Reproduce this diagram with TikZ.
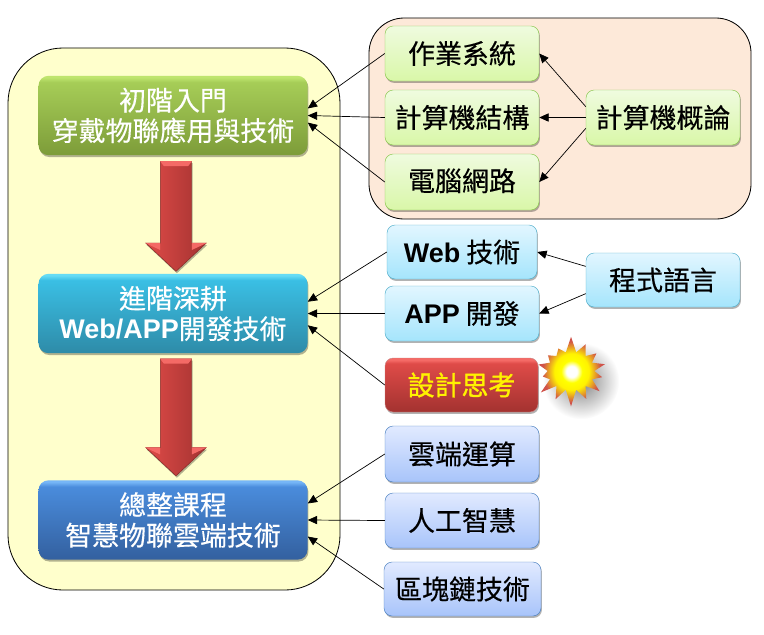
\documentclass[tikz,border=0pt]{standalone}
\usepackage{fontspec}
\setmainfont[FakeBold=0.35]{Noto Sans CJK TC}
\newfontfamily\latinfont{Liberation Sans}[BoldFont={Liberation Sans Bold}]
\usepackage{tikz}
\usetikzlibrary{arrows.meta,calc,shadows,shapes.arrows,shapes.symbols}
\definecolor{greenlow}{HTML}{7D9C39}
\definecolor{greenhigh}{HTML}{A6CD57}
\definecolor{greenrim}{HTML}{BFE56E}
\definecolor{teallow}{HTML}{2E8BA8}
\definecolor{tealhigh}{HTML}{3ABFE4}
\definecolor{tealrim}{HTML}{66DCF5}
\definecolor{bluelow}{HTML}{33609F}
\definecolor{bluehigh}{HTML}{4A8CDC}
\definecolor{bluerim}{HTML}{76B6F7}
\definecolor{redlow}{HTML}{A33230}
\definecolor{redhigh}{HTML}{DF4B48}
\definecolor{redrim}{HTML}{F46A66}
\definecolor{paleyellow}{HTML}{FFFFCC}
\definecolor{peach}{HTML}{FDE9D9}
\definecolor{flashred}{HTML}{D0524A}
\definecolor{greentop}{HTML}{EFFBDF}
\definecolor{greenbottom}{HTML}{D9F7A8}
\definecolor{cyantop}{HTML}{E2F6FF}
\definecolor{cyanbottom}{HTML}{A5E5FC}
\definecolor{cyanedge}{HTML}{50AECB}
\definecolor{bluetop}{HTML}{E1EAFF}
\definecolor{bluebottom}{HTML}{A8C4FA}
\definecolor{blueedge}{HTML}{4A80C0}
\pgfdeclareverticalshading{greenbar}{100bp}{color(0bp)=(greenlow); color(25bp)=(greenlow); color(71bp)=(greenhigh); color(74bp)=(greenrim); color(100bp)=(greenrim)}
\pgfdeclareverticalshading{tealbar}{100bp}{color(0bp)=(teallow); color(25bp)=(teallow); color(71bp)=(tealhigh); color(74bp)=(tealrim); color(100bp)=(tealrim)}
\pgfdeclareverticalshading{bluebar}{100bp}{color(0bp)=(bluelow); color(25bp)=(bluelow); color(71bp)=(bluehigh); color(74bp)=(bluerim); color(100bp)=(bluerim)}
\pgfdeclareverticalshading{redbar}{100bp}{color(0bp)=(redlow); color(25bp)=(redlow); color(70bp)=(redhigh); color(73bp)=(redrim); color(100bp)=(redrim)}
\pgfdeclareradialshading{flash}{\pgfpoint{0bp}{0bp}}{color(0bp)=(white); color(4bp)=(white); color(8bp)=(yellow); color(13bp)=(yellow!90!orange); color(22bp)=(flashred); color(50bp)=(flashred)}
\tikzset{
  panel/.style={draw=black, line width=0.7pt},
  softshadow/.style={drop shadow={shadow xshift=0.8pt, shadow yshift=-1.6pt, opacity=0.3, fill=black}},
  mainbox/.style={rounded corners=8.5pt, shade, align=center, inner sep=0pt, minimum width=8.07cm,
                  minimum height=2.38cm, text=white, font=\fontsize{23}{26}\selectfont, softshadow},
  topic/.style={rounded corners=7pt, align=center, inner sep=0pt, text=black,
                font=\fontsize{23}{26}\selectfont, softshadow},
  greentopic/.style={topic, draw=green!35!olive!70, top color=greentop, bottom color=greenbottom},
  cyantopic/.style={topic, draw=cyanedge, top color=cyantop, bottom color=cyanbottom},
  bluetopic/.style={topic, draw=blueedge, top color=bluetop, bottom color=bluebottom},
  link/.style={-{Triangle[length=8pt,width=7pt]}, line width=0.6pt, black},
  bigarrow/.style={single arrow, rotate=-90, draw=redlow!80!black, line width=0.4pt, inner xsep=0pt, inner ysep=0.465cm,
                   minimum width=1.8cm, single arrow head extend=0.435cm, single arrow tip angle=94,
                   shade, shading=axis, left color=redhigh, right color=redlow, softshadow},
}
\begin{document}
\begin{tikzpicture}[x=0.03cm,y=-0.03cm]
  \useasboundingbox (0,0) rectangle (764,634);
  % background panels
  \node[panel, fill=paleyellow, rounded corners=47pt, inner sep=0pt, minimum width=9.96cm, minimum height=16.26cm] (track) at (174,319) {};
  \node[panel, fill=peach, rounded corners=30pt, inner sep=0pt, minimum width=11.46cm, minimum height=6.03cm] (basics) at (560,118.5) {};
  % course levels
  \foreach \n/\y/\c/\t in {intro/115.5/greenbar/{初階入門\\穿戴物聯應用與技術},
                           deep/313.5/tealbar/{進階深耕\\{\latinfont\bfseries Web/APP}開發技術},
                           final/520/bluebar/{總整課程\\智慧物聯雲端技術}}
    { \node[mainbox, shading=\c] (\n) at (173,\y) {\t}; }
  \node[bigarrow, minimum height=3.3cm] (stepa) at (176,209) {};
  \node[bigarrow, minimum height=3.51cm] (stepb) at (176,410) {};
  \foreach \a in {stepa,stepb}
    { \fill[redrim] (\a.before tail) -- (\a.after tail) -- ($(\a.after tail)!0.12!(\a.before tail)+(0,5)$) -- ($(\a.before tail)!0.12!(\a.after tail)+(0,5)$) -- cycle;
      \fill[redrim] (\a.before tip) -- (\a.before head) -- ($(\a.before head)+(0,7)$) -- cycle;
      \fill[redrim] (\a.after tip) -- (\a.after head) -- ($(\a.after head)+(0,7)$) -- cycle; }
  % topics
  \foreach \n/\x/\y/\w/\h/\s/\t in {os/462/53.5/154/55/greentopic/作業系統,
                                    arch/462/117.5/154/55/greentopic/計算機結構,
                                    net/462/182/154/56/greentopic/{\raisebox{4pt}{電腦網路}},
                                    intro2/663/117.5/154/55/greentopic/計算機概論,
                                    web/462/252/150/54/cyantopic/{{\latinfont\bfseries Web} 技術},
                                    app/462/313.5/154/55/cyantopic/{{\latinfont\bfseries APP} 開發},
                                    lang/663/280/154/54/cyantopic/程式語言,
                                    cloud/462/454/154/56/bluetopic/雲端運算,
                                    ai/462/520.5/154/55/bluetopic/人工智慧,
                                    chain/462.5/589/157/54/bluetopic/區塊鏈技術}
    { \node[\s, minimum width=\w*0.03cm, minimum height=\h*0.03cm] (\n) at (\x,\y) {\t}; }
  \node[topic, shade, shading=redbar, minimum width=4.59cm, minimum height=1.62cm, text=yellow, draw=redlow!60, font=\fontsize{23}{26}\selectfont\addfontfeature{FakeBold=1.2}] (think) at (461.5,385) {設計思考};
  \node[circle, shade, inner color=black!50, outer color=white, inner sep=0pt, minimum size=2.3cm] (glow) at (581,381) {};
  \node[starburst, starburst points=14, starburst point height=0.5cm, random starburst=7, minimum width=2.4cm, minimum height=2.15cm, inner sep=0pt,
        shade, shading=flash] (spark) at (571,371) {};
  % connectors
  \draw[link] (os.west) -- (intro.3.4);
  \draw[link] (arch.west) -- (intro.east);
  \draw[link] (net.west) -- (intro.-3.4);
  \draw[link] (intro2.172) -- (os.east);
  \draw[link] (intro2.west) -- (arch.east);
  \draw[link] (intro2.188) -- (net.east);
  \draw[link] (lang.170) -- (web.east);
  \draw[link] (lang.190) -- (app.east);
  \draw[link] (web.west) -- (deep.5);
  \draw[link] (app.west) -- (deep.east);
  \draw[link] (think.west) -- (deep.-5);
  \draw[link] (cloud.west) -- (final.7);
  \draw[link] (ai.west) -- (final.east);
  \draw[link] (chain.west) -- (final.-7);
\end{tikzpicture}
\end{document}
